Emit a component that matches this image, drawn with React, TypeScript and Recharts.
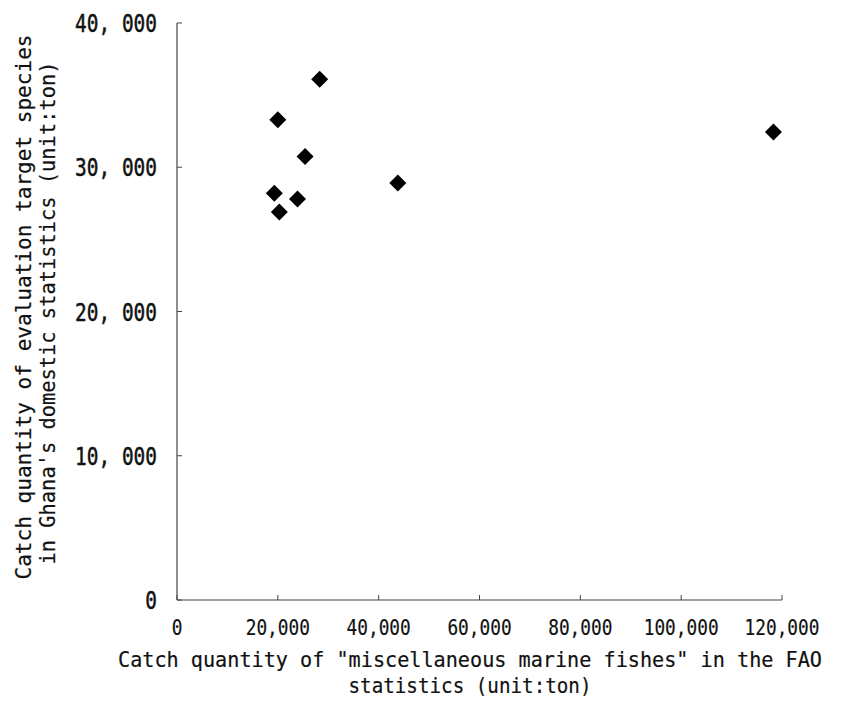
import React from "react";
import { ScatterChart, Scatter, XAxis, YAxis, Label } from "recharts";

const fmsX = [28300, 20000, 25400, 43800, 19300, 23900, 20300, 118300];
const ghanaY = [36100, 33300, 30750, 28900, 28200, 27800, 26900, 32450];
const xTicks = [0, 20000, 40000, 60000, 80000, 100000, 120000];
const yTicks = [0, 10000, 20000, 30000, 40000];
const xTitle1 = 'Catch quantity of "miscellaneous marine fishes" in the FAO';
const xTitle2 = "statistics (unit:ton)";
const yTitle1 = "Catch quantity of evaluation target species";
const yTitle2 = "in Ghana's domestic statistics (unit:ton)";

const data = fmsX.map((x, i) => ({ x, y: ghanaY[i] }));

const FONT = "'DejaVu Sans Mono', 'Liberation Mono', monospace";

const fmtY = (v: number) => (v === 0 ? "0" : v.toLocaleString("en-US").replace(",", ", "));
const fmtX = (v: number) => (v === 0 ? "0" : v.toLocaleString("en-US"));

const YTick = (p: any) => {
  const { x, y, payload } = p;
  const s = fmtY(payload.value);
  return (
    <g>
      <line x1={x} y1={y} x2={x + 5} y2={y} stroke="#444" strokeWidth={1} />
      <text
        x={x - 20}
        y={y}
        dy={9}
        textAnchor="end"
        fontFamily={FONT}
        fontSize={25}
        fill="#111"
        stroke="#111"
        strokeWidth={0.5}
        textLength={s.length * 11.7}
        lengthAdjust="spacingAndGlyphs"
      >
        {s}
      </text>
    </g>
  );
};

const XTick = (p: any) => {
  const { x, y, payload } = p;
  const s = fmtX(payload.value);
  return (
    <g>
      <line x1={x} y1={y} x2={x} y2={y - 5} stroke="#444" strokeWidth={1} />
      <text
        x={x}
        y={y + 35}
        textAnchor="middle"
        fontFamily={FONT}
        fontSize={21}
        fill="#111"
        stroke="#111"
        strokeWidth={0.2}
        textLength={s.length * 10.7}
        lengthAdjust="spacingAndGlyphs"
      >
        {s}
      </text>
    </g>
  );
};

const Diamond = (p: any) => {
  const { cx, cy } = p;
  const r = 8.5;
  return <polygon points={`${cx},${cy - r} ${cx + r},${cy} ${cx},${cy + r} ${cx - r},${cy}`} fill="#000" />;
};

export default function App() {
  return (
    <div style={{ position: "absolute", left: 0, top: 0, width: 849, height: 701, background: "#fff" }}>
      <ScatterChart width={849} height={701} margin={{ top: 23, right: 67, left: 0, bottom: 0 }}>
        <XAxis
          type="number"
          dataKey="x"
          domain={[0, 120000]}
          ticks={xTicks}
          height={101}
          tickSize={0}
          tickMargin={0}
          tickLine={false}
          tick={<XTick />}
          axisLine={{ stroke: "#444", strokeWidth: 1.2 }}
          interval={0}
        >
          <Label
            content={() => (
              <g fontFamily={FONT} fontSize={21} fill="#111" stroke="#111" strokeWidth={0.2}>
                <text x={470} y={667} textAnchor="middle" textLength={704} lengthAdjust="spacingAndGlyphs">
                  {xTitle1}
                </text>
                <text x={470} y={693} textAnchor="middle" textLength={243} lengthAdjust="spacingAndGlyphs">
                  {xTitle2}
                </text>
              </g>
            )}
          />
        </XAxis>
        <YAxis
          type="number"
          dataKey="y"
          domain={[0, 40000]}
          ticks={yTicks}
          width={177}
          tickSize={0}
          tickMargin={0}
          tickLine={false}
          tick={<YTick />}
          axisLine={{ stroke: "#444", strokeWidth: 1.2 }}
          interval={0}
        >
          <Label
            content={() => (
              <g fontFamily={FONT} fontSize={21} fill="#111" stroke="#111" strokeWidth={0.2}>
                <text x={0} y={0} transform="translate(31,307) rotate(-90)" textAnchor="middle" textLength={545} lengthAdjust="spacingAndGlyphs">
                  {yTitle1}
                </text>
                <text x={0} y={0} transform="translate(55,313) rotate(-90)" textAnchor="middle" textLength={503} lengthAdjust="spacingAndGlyphs">
                  {yTitle2}
                </text>
              </g>
            )}
          />
        </YAxis>
        <Scatter data={data} shape={<Diamond />} isAnimationActive={false} />
      </ScatterChart>
    </div>
  );
}
